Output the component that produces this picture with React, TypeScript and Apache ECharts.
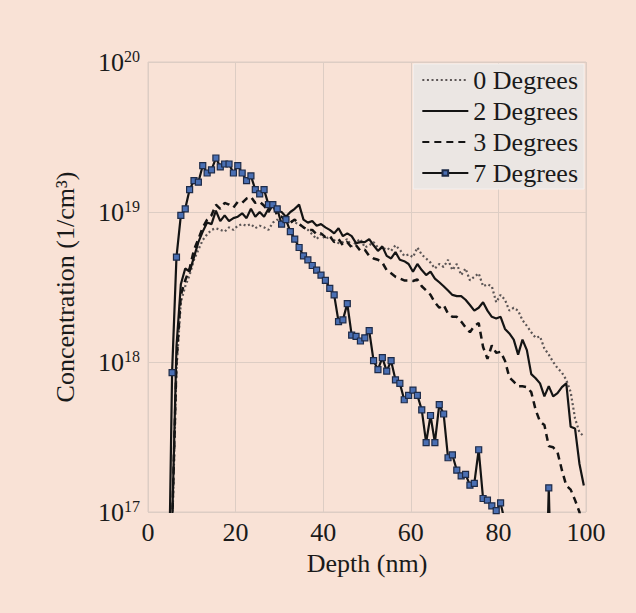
import React, { useEffect, useRef } from "react";
import * as echarts from "echarts";

const DEPTH = [
  4.5, 5.5, 6.5, 7.5, 8.5, 9.5, 10.5, 11.5, 12.5, 13.5, 14.5, 15.5, 16.5, 17.5, 18.5, 19.5,
  20.5, 21.5, 22.5, 23.5, 24.5, 25.5, 26.5, 27.5, 28.5, 29.5, 30.5, 31.5, 32.5, 33.5, 34.5,
  35.5, 36.5, 37.5, 38.5, 39.5, 40.5, 41.5, 42.5, 43.5, 44.5, 45.5, 46.5, 47.5, 48.5, 49.5,
  50.5, 51.5, 52.5, 53.5, 54.5, 55.5, 56.5, 57.5, 58.5, 59.5, 60.5, 61.5, 62.5, 63.5, 64.5,
  65.5, 66.5, 67.5, 68.5, 69.5, 70.5, 71.5, 72.5, 73.5, 74.5, 75.5, 76.5, 77.5, 78.5, 79.5,
  80.5, 81.5, 82.5, 83.5, 84.5, 85.5, 86.5, 87.5, 88.5, 89.5, 90.5, 91.5, 92.5, 93.5, 94.5,
  95.5, 96.5, 97.5, 98.5, 99.5,
];

const CONC_0 = [
  5e16, 7e16, 8.9e17, 2.5e18, 3.2e18, 3.8e18, 4.8e18, 5.6e18, 6.5e18, 7.1e18, 7.6e18, 7.8e18,
  7.6e18, 7.4e18, 7.9e18, 7.6e18, 8.1e18, 8.3e18, 8.1e18, 8.3e18, 7.8e18, 8.1e18, 7.9e18,
  7.6e18, 8.5e18, 8.9e18, 8.5e18, 9.1e18, 8.7e18, 8.5e18, 8.3e18, 7.9e18, 7.6e18, 7.1e18,
  6.6e18, 7.1e18, 6.6e18, 6.9e18, 6.5e18, 6.2e18, 6.3e18, 6.6e18, 5.9e18, 6.3e18, 6.6e18,
  5.8e18, 6.0e18, 6.3e18, 5.8e18, 5.6e18, 5.8e18, 5.5e18, 6.0e18, 5.6e18, 5.1e18, 5.2e18,
  5.0e18, 5.8e18, 5.2e18, 4.9e18, 4.6e18, 4.2e18, 4.5e18, 4.3e18, 4.8e18, 4.1e18, 4.5e18,
  3.8e18, 4.2e18, 3.5e18, 3.7e18, 3.9e18, 3.2e18, 3.3e18, 3.2e18, 2.5e18, 2.8e18, 2.6e18,
  2.2e18, 2.3e18, 2.2e18, 1.9e18, 1.74e18, 1.58e18, 1.45e18, 1.48e18, 1.23e18, 1.12e18,
  1.0e18, 9.1e17, 8.5e17, 7.6e17, 6.3e17, 4.2e17, 3.4e17, 3.2e17,
];

const CONC_2 = [
  5e16, 8e16, 1.26e18, 3.3e18, 4.2e18, 4.0e18, 5.0e18, 6.3e18, 7.4e18, 8.5e18, 8.3e18,
  1.02e19, 8.7e18, 9.5e18, 8.7e18, 9.1e18, 9.3e18, 9.8e18, 9.1e18, 1.05e19, 9.3e18, 1.0e19,
  9.3e18, 1.05e19, 1.15e19, 1.02e19, 1.0e19, 9.3e18, 1.0e19, 1.05e19, 1.12e19, 8.9e18,
  8.5e18, 8.7e18, 8.1e18, 8.3e18, 7.9e18, 7.6e18, 7.2e18, 7.8e18, 6.9e18, 7.2e18, 6.9e18,
  6.2e18, 6.3e18, 6.3e18, 6.6e18, 6.0e18, 5.5e18, 5.9e18, 5.1e18, 4.9e18, 5.4e18, 4.8e18,
  4.7e18, 4.5e18, 4.0e18, 4.5e18, 4.1e18, 3.8e18, 4.0e18, 3.6e18, 3.4e18, 3.2e18, 3.0e18,
  2.8e18, 2.75e18, 2.75e18, 2.6e18, 2.4e18, 2.2e18, 2.3e18, 2.5e18, 2.2e18, 2.0e18, 1.95e18,
  2.0e18, 1.66e18, 1.55e18, 1.41e18, 1.12e18, 1.41e18, 1.2e18, 8.3e17, 7.8e17, 7.2e17,
  5.9e17, 6.9e17, 5.9e17, 6.2e17, 6.8e17, 7.2e17, 3.7e17, 3.6e17, 2.1e17, 1.5e17,
];

const CONC_3 = [
  5e16, 8e16, 1.0e18, 2.8e18, 3.5e18, 4.2e18, 5.6e18, 6.6e18, 7.9e18, 8.9e18, 9.5e18,
  1.12e19, 1.05e19, 1.15e19, 1.12e19, 1.07e19, 1.17e19, 1.15e19, 1.23e19, 1.26e19, 1.15e19,
  1.17e19, 1.1e19, 1.0e19, 1.12e19, 9.5e18, 9.3e18, 8.7e18, 8.5e18, 8.9e18, 8.3e18, 7.9e18,
  7.6e18, 7.6e18, 7.1e18, 7.2e18, 6.8e18, 6.9e18, 6.3e18, 6.6e18, 6.0e18, 6.3e18, 5.8e18,
  6.0e18, 5.5e18, 5.6e18, 5.1e18, 4.9e18, 4.8e18, 4.6e18, 4.1e18, 3.9e18, 3.7e18, 3.6e18,
  3.5e18, 3.5e18, 3.47e18, 3.55e18, 3.2e18, 3.0e18, 2.8e18, 2.5e18, 2.3e18, 2.4e18, 2.1e18,
  2.0e18, 2.0e18, 1.86e18, 1.7e18, 1.58e18, 1.74e18, 1.82e18, 1.26e18, 1.05e18, 1.29e18,
  1.15e18, 1.17e18, 1.02e18, 7.9e17, 7.4e17, 6.9e17, 6.9e17, 6.8e17, 6.3e17, 4.8e17, 4.0e17,
  3.8e17, 2.75e17, 2.7e17, 2.5e17, 1.9e17, 1.5e17, 1.41e17, 1.2e17, 1.0e17, 7e16,
];

const CONC_7 = [
  1e16, 8.5e17, 5.0e18, 9.5e18, 1.05e19, 1.41e19, 1.62e19, 1.58e19, 2.04e19, 1.82e19,
  1.91e19, 2.29e19, 2.0e19, 2.09e19, 2.09e19, 1.82e19, 2.04e19, 1.82e19, 1.62e19, 1.74e19,
  1.41e19, 1.32e19, 1.41e19, 1.12e19, 1.12e19, 1.05e19, 8.3e18, 8.9e18, 7.4e18, 6.6e18,
  5.8e18, 5.1e18, 4.8e18, 4.4e18, 4.1e18, 3.8e18, 3.5e18, 3.1e18, 2.8e18, 1.86e18, 1.91e18,
  2.45e18, 1.51e18, 1.48e18, 1.38e18, 1.45e18, 1.62e18, 1.02e18, 8.9e17, 1.07e18, 8.7e17,
  1.02e18, 7.6e17, 7.2e17, 5.6e17, 6.0e17, 6.5e17, 6.0e17, 4.8e17, 2.9e17, 4.4e17, 2.9e17,
  5.2e17, 4.5e17, 2.3e17, 2.4e17, 1.9e17, 1.74e17, 1.78e17, 1.51e17, 1.55e17, 2.6e17,
  1.23e17, 1.2e17, 1.1e17, 1.02e17, 1.15e17, 8.5e16, 1e16, 1e16, 1e16, 1e16, 1e16, 1e16,
  1e16, 1e16, 1e16, 1.45e17, 1e16, null, null, null, null, null, null, null,
];

const SERIES_NAMES = ["0 Degrees", "2 Degrees", "3 Degrees", "7 Degrees"];
const X_TICKS = [0, 20, 40, 60, 80, 100];

const FONT = "'Liberation Serif', 'Times New Roman', serif";
const BG = "#f9e2d6";
const GRID_LINE = "#ddcdc4";

function pairs(values: (number | null)[]) {
  return DEPTH.map((d, i) => [d, values[i]]);
}

export default function App() {
  const ref = useRef<HTMLDivElement>(null);

  useEffect(() => {
    if (!ref.current) return;
    const chart = echarts.init(ref.current, undefined, { renderer: "svg" });
    const option: any = {
      animation: false,
      backgroundColor: BG,
      grid: {
        left: 148,
        right: 50,
        top: 62,
        bottom: 101,
        show: true,
        borderColor: GRID_LINE,
        borderWidth: 1,
        backgroundColor: "transparent",
      },
      legend: {
        orient: "vertical",
        right: 52,
        top: 64,
        itemWidth: 46,
        itemHeight: 7,
        itemGap: 5,
        padding: [3, 6, 3, 8],
        backgroundColor: "#ebe6e3",
        borderColor: "#f4f0ee",
        borderWidth: 1,
        textStyle: { fontFamily: FONT, fontSize: 26, color: "#1a1a1a" },
        data: [
          { name: SERIES_NAMES[0], itemStyle: { opacity: 0 } },
          { name: SERIES_NAMES[1], itemStyle: { opacity: 0 } },
          { name: SERIES_NAMES[2], itemStyle: { opacity: 0 } },
          { name: SERIES_NAMES[3] },
        ],
      },
      xAxis: {
        type: "value",
        min: X_TICKS[0],
        max: X_TICKS[X_TICKS.length - 1],
        interval: 20,
        name: "Depth (nm)",
        nameLocation: "middle",
        nameGap: 38,
        nameTextStyle: { fontFamily: FONT, fontSize: 26, color: "#1a1a1a" },
        axisLine: { show: false },
        axisTick: { show: false },
        axisLabel: { fontFamily: FONT, fontSize: 26, color: "#1a1a1a", margin: 7 },
        splitLine: { show: true, lineStyle: { color: GRID_LINE, width: 1 } },
      },
      yAxis: {
        type: "log",
        logBase: 10,
        min: 1e17,
        max: 1e20,
        name: "Concentration (1/cm³)",
        nameLocation: "middle",
        nameGap: 70,
        nameTextStyle: { fontFamily: FONT, fontSize: 26, color: "#1a1a1a" },
        axisLine: { show: false },
        axisTick: { show: false },
        axisLabel: {
          margin: 8,
          formatter: (v: number) => `{b|10}{s|${Math.round(Math.log10(v))}}`,
          rich: {
            b: { fontFamily: FONT, fontSize: 26, color: "#1a1a1a", lineHeight: 28 },
            s: {
              fontFamily: FONT,
              fontSize: 16,
              color: "#1a1a1a",
              lineHeight: 14,
              verticalAlign: "top",
            },
          },
        },
        splitLine: { show: true, lineStyle: { color: GRID_LINE, width: 1 } },
      },
      series: [
        {
          name: SERIES_NAMES[0],
          type: "line",
          data: pairs(CONC_0),
          symbol: "none",
          lineStyle: { color: "#5c5656", width: 2.2, type: [2, 2.6] },
          itemStyle: { color: "#5c5656" },
        },
        {
          name: SERIES_NAMES[1],
          type: "line",
          data: pairs(CONC_2),
          symbol: "none",
          lineStyle: { color: "#141414", width: 2.2, type: "solid" },
          itemStyle: { color: "#141414" },
        },
        {
          name: SERIES_NAMES[2],
          type: "line",
          data: pairs(CONC_3),
          symbol: "none",
          lineStyle: { color: "#141414", width: 2.5, type: [7, 5] },
          itemStyle: { color: "#141414" },
        },
        {
          name: SERIES_NAMES[3],
          type: "line",
          data: pairs(CONC_7),
          symbol: "rect",
          symbolSize: 6,
          showSymbol: true,
          connectNulls: false,
          lineStyle: { color: "#141414", width: 2.2 },
          itemStyle: { color: "#4a6fb3", borderColor: "#1e2b48", borderWidth: 1.2 },
        },
      ],
    };
    chart.setOption(option);
    return () => chart.dispose();
  }, []);

  return (
    <div
      style={{
        position: "fixed",
        left: 0,
        top: 0,
        width: 636,
        height: 613,
        background: BG,
      }}
    >
      <div ref={ref} style={{ width: 636, height: 613 }} />
    </div>
  );
}
